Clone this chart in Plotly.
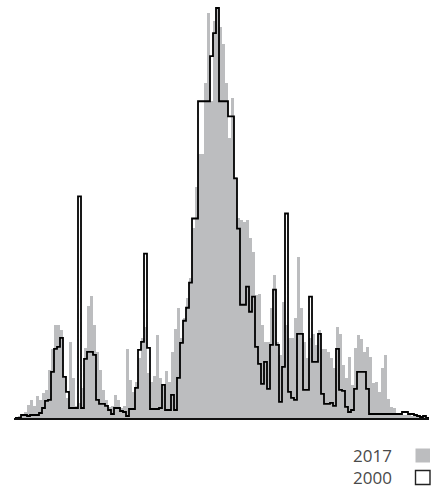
import plotly.graph_objects as go

# Histogram bins (bin index along the x axis)
bins = list(range(138))

# 2017 distribution (filled grey bars)
counts_2017 = [
    1, 2, 4, 6, 13, 18, 12, 22, 18, 25,
    28, 48, 69, 93, 93, 88, 40, 20, 76, 40,
    12, 15, 30, 70, 112, 122, 93, 66, 48, 28,
    18, 11, 12, 23, 18, 10, 12, 69, 38, 26,
    36, 60, 80, 91, 45, 36, 42, 83, 40, 32,
    47, 36, 66, 89, 110, 80, 100, 120, 140, 190,
    230, 263, 263, 334, 404, 316, 396, 408, 390, 373,
    334, 279, 319, 240, 200, 198, 196, 198, 180, 166,
    123, 124, 93, 76, 76, 110, 143, 76, 63, 116,
    93, 80, 80, 100, 161, 110, 76, 60, 80, 84,
    73, 88, 69, 69, 66, 60, 50, 91, 84, 53,
    40, 61, 33, 70, 83, 79, 66, 71, 61, 35,
    36, 26, 50, 63, 19, 11, 10, 5, 4, 3,
    3, 3, 2, 2, 2, 1, 1, 1,
]

# 2000 distribution (black step outline)
counts_2000 = [
    0, 0, 3, 3, 2, 3, 3, 3, 5, 10,
    17, 18, 46, 69, 71, 80, 41, 26, 10, 10,
    10, 221, 10, 59, 66, 66, 63, 18, 14, 14,
    12, 8, 4, 10, 10, 7, 6, 2, 9, 9,
    30, 68, 76, 164, 70, 9, 9, 9, 10, 33,
    8, 8, 23, 8, 40, 75, 97, 110, 135, 199,
    199, 316, 316, 316, 316, 361, 384, 409, 316, 316,
    316, 301, 301, 239, 189, 113, 113, 131, 106, 121,
    71, 54, 34, 56, 29, 73, 128, 73, 16, 51,
    204, 26, 20, 18, 84, 84, 28, 28, 121, 56,
    56, 84, 24, 14, 14, 15, 12, 69, 28, 27,
    11, 6, 8, 29, 46, 46, 46, 29, 4, 4,
    4, 4, 4, 4, 4, 4, 4, 4, 4, 6,
    6, 4, 4, 3, 2, 1, 2, 0,
]

legend_labels = ["2017", "2000"]

GREY = "#bcbdbf"
W, H = 436, 488
ML, MR, MT, MB = 14, 7, 0, 70
plot_w = W - ML - MR
plot_h = H - MT - MB


def px_x(px):
    return (px - ML) / plot_w


def px_y(py):
    return (H - MB - py) / plot_h


fig = go.Figure()

fig.add_trace(go.Bar(
    x=[b + 0.5 for b in bins],
    y=counts_2017,
    width=1.0,
    marker=dict(color=GREY, line=dict(width=0)),
    hoverinfo="skip",
))

# step outline: edges 0..138, repeat last value for the closing edge
edges = list(range(len(counts_2000) + 1))
fig.add_trace(go.Scatter(
    x=edges,
    y=counts_2000 + [counts_2000[-1]],
    mode="lines",
    line=dict(color="#000000", width=1.8, shape="hv"),
    hoverinfo="skip",
))

# legend: label text followed by a swatch
legend_rows = [(455.5, GREY, GREY, 0), (477.5, "#ffffff", "#222222", 1.4)]
for label, (cy, fill, edge, lw) in zip(legend_labels, legend_rows):
    fig.add_annotation(
        x=px_x(394), y=px_y(cy), xref="paper", yref="paper",
        text=label, showarrow=False, xanchor="right", yanchor="middle",
        font=dict(family="Open Sans", size=17, color="#4a4a4a"),
    )
    fig.add_shape(
        type="rect", xref="paper", yref="paper",
        x0=px_x(415.5), x1=px_x(430), y0=px_y(cy - 7), y1=px_y(cy + 7),
        fillcolor=fill, line=dict(color=edge if lw else fill, width=lw if lw else 0),
    )

fig.update_layout(
    width=W, height=H,
    margin=dict(l=ML, r=MR, t=MT, b=MB, pad=0),
    paper_bgcolor="#ffffff", plot_bgcolor="#ffffff",
    showlegend=False, bargap=0,
    xaxis=dict(range=[-1 / 3, 138], showgrid=False, zeroline=False,
               showticklabels=False, ticks="", showline=True,
               linecolor="#111111", linewidth=1.6, fixedrange=True),
    yaxis=dict(range=[0, 417], showgrid=False, zeroline=False,
               showticklabels=False, ticks="", showline=False, fixedrange=True),
)

fig.write_html("out.html")
